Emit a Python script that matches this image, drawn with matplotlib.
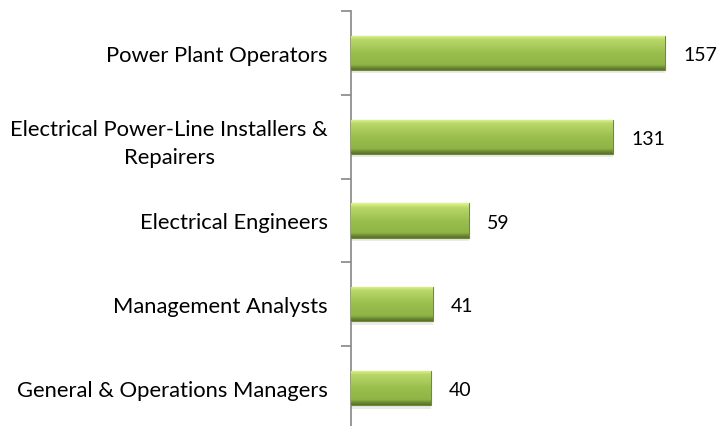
import matplotlib
matplotlib.use("Agg")
import matplotlib.pyplot as plt
import numpy as np
from matplotlib.colors import LinearSegmentedColormap
from matplotlib.transforms import ScaledTranslation

categories = ["Power Plant Operators",
              "Electrical Power-Line Installers &\nRepairers",
              "Electrical Engineers",
              "Management Analysts",
              "General & Operations Managers"]
values = [157, 131, 59, 41, 40]

plt.rcParams['font.family'] = ['Lato', 'DejaVu Sans']
FS = 15.8
FSV = 14.0

fig = plt.figure(figsize=(7.18, 4.27), dpi=100)
ax = fig.add_axes([351/718, -4/427, 1 - 351/718, 419/427])

n = len(categories)
ypos = np.arange(n)
ax.set_ylim(n - 0.5, -0.5)
ax.set_xlim(0, (718 - 351) / 2.0)

cmap = LinearSegmentedColormap.from_list("bev", [
    (0.0, "#e0f58c"), (0.12, "#b9d86a"), (0.5, "#9bbf4d"),
    (0.85, "#8fb445"), (0.93, "#6e8c32"), (1.0, "#56702a")])

h = 0.41
# shadows
ax.barh(ypos + 0.04, values, height=h, color="#c8c8c8", alpha=0.35,
        edgecolor="none", zorder=1)
bars = ax.barh(ypos, values, height=h, color="#9bbf4d",
               edgecolor="#6f8a34", linewidth=0.8, zorder=2)
grad = np.linspace(0, 1, 100).reshape(-1, 1)
for b in bars:
    x0, y0 = b.get_x(), b.get_y()
    w, hh = b.get_width(), b.get_height()
    im = ax.imshow(grad, cmap=cmap, aspect="auto",
                   extent=[x0, x0 + w, y0 + hh, y0], zorder=3,
                   interpolation="bicubic")
    im.set_clip_path(b)

for y, v in zip(ypos, values):
    ax.text(v + 9, y + 0.02, str(v), va="center", ha="left",
            fontsize=FSV, color="#000000")

ax.set_yticks(np.arange(-0.5, n, 1.0))
ax.set_yticklabels([])
ax.set_yticks(ypos, minor=True)
ax.set_yticklabels(categories, minor=True, fontsize=FS, ha="center",
                   multialignment="center", linespacing=1.5)
ax.tick_params(axis="y", which="minor", length=0, pad=0)
ax.tick_params(axis="y", which="major", length=7, color="#868686", width=1.2)
fig.canvas.draw()
renderer = fig.canvas.get_renderer()
for lab in ax.get_yticklabels(minor=True):
    bb = lab.get_window_extent(renderer)
    dx = -(bb.width / 2 + 23) / fig.dpi
    lab.set_transform(lab.get_transform() + ScaledTranslation(dx, 0, fig.dpi_scale_trans))

ax.set_xticks([])
for s in ["top", "right", "bottom"]:
    ax.spines[s].set_visible(False)
ax.spines["left"].set_color("#868686")
ax.spines["left"].set_linewidth(1.2)

fig.savefig("out.png", dpi=100)
